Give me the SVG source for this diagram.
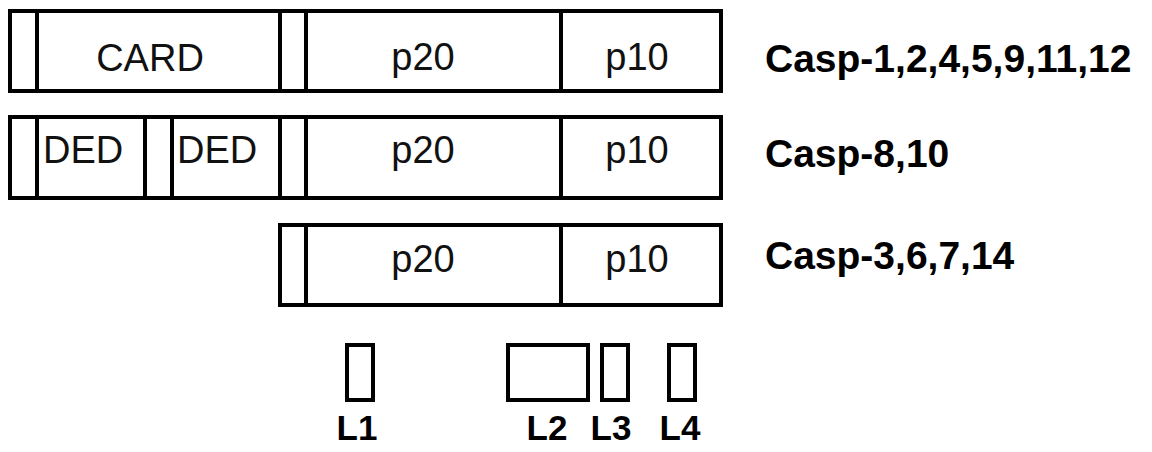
<svg xmlns="http://www.w3.org/2000/svg" width="1152" height="452" viewBox="0 0 1152 452">
<style>
.box{fill:#fff;stroke:#000;stroke-width:4}
.div{stroke:#000;stroke-width:4}
.t{font-family:"Liberation Sans",Arial,sans-serif;font-size:38px;fill:#111}
.b{font-family:"Liberation Sans",Arial,sans-serif;font-size:39px;font-weight:bold;fill:#000}
.l{font-family:"Liberation Sans",Arial,sans-serif;font-size:35px;font-weight:bold;fill:#000}
</style>
<rect width="1152" height="452" fill="#fff"/>
<g id="row1">
<rect class="box" x="10" y="11" width="711" height="80"/>
<line class="div" x1="37" y1="11" x2="37" y2="91"/>
<line class="div" x1="280" y1="11" x2="280" y2="91"/>
<line class="div" x1="306" y1="11" x2="306" y2="91"/>
<line class="div" x1="561" y1="11" x2="561" y2="91"/>
<text class="t" x="150" y="71" text-anchor="middle">CARD</text>
<text class="t" x="423" y="70" text-anchor="middle">p20</text>
<text class="t" x="637" y="70" text-anchor="middle">p10</text>
<text class="b" x="765" y="72">Casp-1,2,4,5,9,11,12</text>
</g>
<g id="row2">
<rect class="box" x="10" y="117" width="711" height="81"/>
<line class="div" x1="37" y1="117" x2="37" y2="198"/>
<line class="div" x1="145" y1="117" x2="145" y2="198"/>
<line class="div" x1="172" y1="117" x2="172" y2="198"/>
<line class="div" x1="280" y1="117" x2="280" y2="198"/>
<line class="div" x1="306" y1="117" x2="306" y2="198"/>
<line class="div" x1="561" y1="117" x2="561" y2="198"/>
<text class="t" x="43" y="163">DED</text>
<text class="t" x="177" y="163">DED</text>
<text class="t" x="423" y="163" text-anchor="middle">p20</text>
<text class="t" x="637" y="163" text-anchor="middle">p10</text>
<text class="b" x="765" y="167">Casp-8,10</text>
</g>
<g id="row3">
<rect class="box" x="280" y="225" width="441" height="80"/>
<line class="div" x1="306" y1="225" x2="306" y2="305"/>
<line class="div" x1="561" y1="225" x2="561" y2="305"/>
<text class="t" x="423" y="272" text-anchor="middle">p20</text>
<text class="t" x="637" y="272" text-anchor="middle">p10</text>
<text class="b" x="765" y="269">Casp-3,6,7,14</text>
</g>
<g id="L1">
<rect class="box" x="347" y="345" width="26" height="55"/>
<text class="l" x="357" y="440" text-anchor="middle">L1</text>
</g>
<g id="L2">
<rect class="box" x="508" y="345" width="80" height="55"/>
<text class="l" x="547" y="440" text-anchor="middle">L2</text>
</g>
<g id="L3">
<rect class="box" x="602" y="345" width="26" height="55"/>
<text class="l" x="611" y="440" text-anchor="middle">L3</text>
</g>
<g id="L4">
<rect class="box" x="669" y="345" width="26" height="55"/>
<text class="l" x="680" y="440" text-anchor="middle">L4</text>
</g>
<g id="connectors"></g>
</svg>
